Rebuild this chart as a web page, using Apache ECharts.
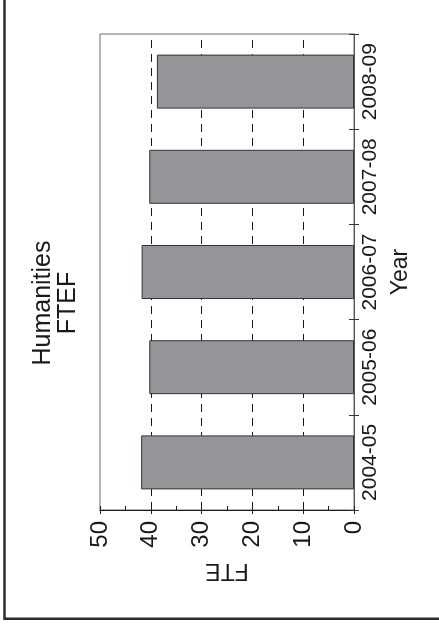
<!DOCTYPE html>
<html>
<head>
<meta charset="utf-8">
<script src="https://cdn.jsdelivr.net/npm/echarts@6/dist/echarts.min.js"></script>
<style>
html,body{margin:0;padding:0;background:#fff;}
#chart{width:439px;height:626px;}
</style>
</head>
<body>
<div id="chart"></div>
<script>
var categories = ['2004-05', '2005-06', '2006-07', '2007-08', '2008-09'];
var fteValues = [41.9, 40.3, 41.8, 40.3, 38.8];
var valueTicks = [0, 10, 20, 30, 40, 50];
var gridValues = [10, 20, 30, 40];
var titleText = 'Humanities\nFTEF';
var valueAxisName = 'FTE';
var categoryAxisName = 'Year';

var FONT = '"Liberation Sans", Arial, Helvetica, sans-serif';
var chart = echarts.init(document.getElementById('chart'), null, {renderer: 'canvas'});

var vMin = valueTicks[0], vMax = valueTicks[valueTicks.length - 1];
var vInterval = valueTicks[1] - valueTicks[0];

var option = {
  animation: false,
  backgroundColor: '#ffffff',
  grid: {
    left: 100, right: 85, top: 34, bottom: 116,
    show: true, borderColor: '#6a6a6a', borderWidth: 1, backgroundColor: 'transparent'
  },
  graphic: [
    {
      type: 'polyline',
      shape: {points: [[4.5, -5], [4.5, 618.8], [445, 618.8]]},
      style: {stroke: '#2e2e2e', lineWidth: 2.5, fill: null},
      silent: true
    },
    {
      type: 'text',
      x: 55.5, y: 303,
      rotation: Math.PI / 2,
      style: {
        text: titleText,
        fontSize: 25,
        fontFamily: FONT,
        fill: '#1a1a1a',
        textAlign: 'center',
        textVerticalAlign: 'middle',
        lineHeight: 25
      },
      silent: true
    }
  ],
  xAxis: [
    {
      type: 'value', position: 'bottom', inverse: true,
      min: vMin, max: vMax, interval: vInterval,
      axisLine: {show: true, lineStyle: {color: '#1a1a1a', width: 1}},
      axisTick: {show: true, inside: true, length: 4, lineStyle: {color: '#1a1a1a'}},
      minorTick: {show: true, splitNumber: 2, length: 4, lineStyle: {color: '#1a1a1a'}},
      splitLine: {show: false},
      axisLabel: {
        rotate: 90, fontSize: 24, color: '#1a1a1a', fontFamily: FONT, margin: 11
      },
      name: valueAxisName, nameLocation: 'middle', nameRotate: 180, nameGap: 49,
      nameTextStyle: {fontSize: 23, color: '#1a1a1a', fontFamily: FONT}
    },
    {
      type: 'value', position: 'bottom', inverse: true,
      min: vMin, max: vMax, interval: vInterval,
      axisLine: {show: false},
      axisTick: {show: true, inside: false, length: 4, lineStyle: {color: '#1a1a1a'}},
      axisLabel: {show: false},
      splitLine: {show: false}
    }
  ],
  yAxis: [
    {
      type: 'category', position: 'right', data: categories,
      axisLine: {show: true, lineStyle: {color: '#555555', width: 1}},
      axisTick: {show: true, inside: false, length: 5, interval: 0, lineStyle: {color: '#333333'}},
      axisLabel: {rotate: 90, interval: 0, fontSize: 21, color: '#1a1a1a', fontFamily: FONT, margin: 6, hideOverlap: false},
      splitLine: {show: false},
      name: categoryAxisName, nameLocation: 'middle', nameRotate: 90, nameGap: 31,
      nameTextStyle: {fontSize: 23, color: '#1a1a1a', fontFamily: FONT}
    },
    {
      type: 'category', position: 'right', data: categories,
      axisLine: {show: false},
      axisTick: {show: true, inside: true, length: 5, interval: 0, lineStyle: {color: '#333333'}},
      axisLabel: {show: false},
      splitLine: {show: false}
    }
  ],
  series: [
    {
      type: 'bar',
      xAxisIndex: 0, yAxisIndex: 0,
      data: fteValues,
      barWidth: 54,
      itemStyle: {color: '#939598', borderColor: '#333333', borderWidth: 1},
      z: 3,
      markLine: {
        silent: true,
        symbol: 'none',
        label: {show: false},
        lineStyle: {type: [8, 6], color: '#1a1a1a', width: 1},
        data: gridValues.map(function (v) { return {xAxis: v}; }),
        z: 1
      }
    }
  ]
};
chart.setOption(option);
</script>
</body>
</html>
